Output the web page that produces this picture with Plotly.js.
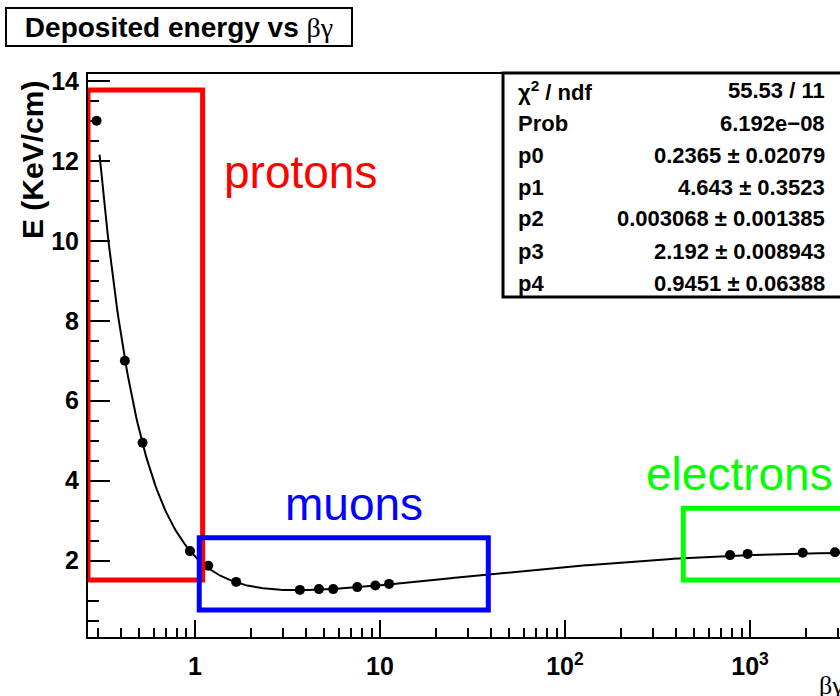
<!DOCTYPE html>
<html>
<head>
<meta charset="utf-8">
<script src="https://cdn.plot.ly/plotly-3.0.1.min.js"></script>
<style>
  html, body { margin: 0; padding: 0; background: #fff; overflow: hidden; }
  #chart { width: 870px; height: 696px; }
</style>
</head>
<body>
<div id="chart"></div>
<script>
// Measured points: beta*gamma and deposited energy (KeV/cm)
const betaGamma = [0.294, 0.418, 0.521, 0.94, 1.18, 1.67, 3.69, 4.68, 5.59, 7.54, 9.44, 11.2, 780, 971, 1928, 2879];
const energy    = [13.0, 7.0, 4.95, 2.24, 1.875, 1.47, 1.27, 1.29, 1.29, 1.34, 1.38, 1.42, 2.14, 2.17, 2.20, 2.21];

// Fit parameters p0..p4 and fit range
const fitPars = [0.2365, 4.643, 0.003068, 2.192, 0.9451];
const fitRange = [0.305, 6000];

// Fit summary box rows
const statLabels = ['χ<sup>2</sup> / ndf', 'Prob', 'p0', 'p1', 'p2', 'p3', 'p4'];
const statValues = ['55.53 / 11', '6.192e\u221208', '0.2365 ± 0.02079', '4.643 ± 0.3523',
                    '0.003068 ± 0.001385', '2.192 ± 0.008943', '0.9451 ± 0.06388'];

// x-axis tick labels
const xTickVals = [1, 10, 100, 1000];
const xTickText = ['1', '10', '10<sup>2</sup>', '10<sup>3</sup>'];

// Highlight regions: [bg0, bg1, E0, E1]
const regionNames = ['protons', 'muons', 'electrons'];
const regionColors = ['#ff0000', '#0000ff', '#00ff00'];
const regionBoxes = [[0.2642, 1.10, 1.52, 13.77], [1.055, 38.5, 0.77, 2.575], [436, 6000, 1.52, 3.31]];
const regionLabelPos = [[1.40, 11.72], [2.99, 3.42], [268, 4.17]];

// Parameterised Bethe-Bloch shape used by the fit
function fitFunc(bg, p) {
  const beta = bg / Math.sqrt(1 + bg * bg);
  const bp = Math.pow(beta, p[3]);
  return p[0] / bp * (p[1] - bp - Math.log(p[2] + Math.pow(bg, -p[4])));
}

const curveX = [], curveY = [];
const nSamp = 500;
const l0 = Math.log10(fitRange[0]), l1 = Math.log10(fitRange[1]);
for (let i = 0; i <= nSamp; i++) {
  const bg = Math.pow(10, l0 + (l1 - l0) * i / nSamp);
  curveX.push(bg);
  curveY.push(fitFunc(bg, fitPars));
}

const W = 870, H = 696;
const M = { l: 88, r: W - 850, t: 74, b: H - 637 };
const plotW = W - M.l - M.r, plotH = H - M.t - M.b;
const px = x => (x - M.l) / plotW;      // page pixel -> paper x
const py = y => (H - M.b - y) / plotH;  // page pixel -> paper y

const FONT = 'Liberation Sans, Arial, sans-serif';

const traces = [
  {
    x: curveX, y: curveY, type: 'scatter', mode: 'lines',
    line: { color: '#000', width: 2 }, hoverinfo: 'skip'
  },
  {
    x: betaGamma, y: energy, type: 'scatter', mode: 'markers',
    marker: { color: '#000', size: 10 }
  }
];

const shapes = [];
const annotations = [];

regionBoxes.forEach((b, i) => {
  shapes.push({
    type: 'rect', xref: 'x', yref: 'y',
    x0: b[0], x1: b[1], y0: b[2], y1: b[3],
    line: { color: regionColors[i], width: 5 }, fillcolor: 'rgba(0,0,0,0)'
  });
  annotations.push({
    xref: 'x', yref: 'y',
    x: Math.log10(regionLabelPos[i][0]), y: regionLabelPos[i][1],
    xanchor: 'left', yanchor: 'middle', showarrow: false,
    text: regionNames[i],
    font: { family: FONT, size: 46, color: regionColors[i] }
  });
});

// Fit summary box
shapes.push({
  type: 'rect', xref: 'paper', yref: 'paper',
  x0: px(503), x1: px(843), y0: py(297), y1: py(73),
  line: { color: '#000', width: 3 }, fillcolor: '#fff', layer: 'above'
});
statLabels.forEach((lab, i) => {
  const yc = py(91 + 32 * i);
  annotations.push({
    xref: 'paper', yref: 'paper', x: px(516), y: yc,
    xanchor: 'left', yanchor: 'middle', showarrow: false, text: lab,
    font: { family: FONT, size: 22, color: '#000', weight: 'bold' }
  });
  annotations.push({
    xref: 'paper', yref: 'paper', x: px(827), y: yc,
    xanchor: 'right', yanchor: 'middle', showarrow: false, text: statValues[i],
    font: { family: FONT, size: 22, color: '#000', weight: 'bold' }
  });
});

// Plot title in a framed box
annotations.push({
  xref: 'paper', yref: 'paper', x: px(5), y: py(7),
  xanchor: 'left', yanchor: 'top', showarrow: false,
  text: '<b>Deposited energy vs </b><span style="font-family:\'Liberation Serif\'">βγ</span>',
  width: 344, height: 36, borderpad: 0, borderwidth: 2, bordercolor: '#000', bgcolor: '#fff',
  align: 'center', valign: 'middle',
  font: { family: FONT, size: 28, color: '#000' }
});

// Axis titles
annotations.push({
  xref: 'paper', yref: 'paper', x: px(33), y: py(160),
  xanchor: 'center', yanchor: 'middle', showarrow: false, textangle: -90,
  text: 'E (KeV/cm)',
  font: { family: FONT, size: 30, color: '#000', weight: 'bold' }
});
annotations.push({
  xref: 'paper', yref: 'paper', x: px(817), y: py(685),
  xanchor: 'left', yanchor: 'middle', showarrow: false,
  text: 'βγ',
  font: { family: 'Liberation Serif, serif', size: 26, color: '#000' }
});

const layout = {
  width: W, height: H, margin: M,
  paper_bgcolor: '#fff', plot_bgcolor: '#fff',
  showlegend: false,
  xaxis: {
    type: 'log', range: [Math.log10(0.2642), 3.5405],
    tickmode: 'array', tickvals: xTickVals, ticktext: xTickText,
    ticks: 'inside', ticklen: 17, tickwidth: 2, tickcolor: '#000',
    minor: { dtick: 'D1', ticks: 'inside', ticklen: 9, tickwidth: 2, tickcolor: '#000', showgrid: false },
    showline: true, linecolor: '#000', linewidth: 2, mirror: true,
    showgrid: false, zeroline: false,
    tickfont: { family: FONT, size: 25, color: '#000', weight: 'bold' },
    ticklabelstandoff: 6
  },
  yaxis: {
    range: [0.0925, 14.17], tickmode: 'linear', tick0: 0, dtick: 2,
    ticks: 'inside', ticklen: 22, tickwidth: 2, tickcolor: '#000',
    minor: { dtick: 0.5, ticks: 'inside', ticklen: 11, tickwidth: 2, tickcolor: '#000', showgrid: false },
    showline: true, linecolor: '#000', linewidth: 2, mirror: true,
    showgrid: false, zeroline: false,
    tickfont: { family: FONT, size: 25, color: '#000', weight: 'bold' },
    ticklabelstandoff: 2
  },
  shapes: shapes,
  annotations: annotations
};

Plotly.newPlot('chart', traces, layout, { displayModeBar: false, staticPlot: true });
</script>
</body>
</html>
